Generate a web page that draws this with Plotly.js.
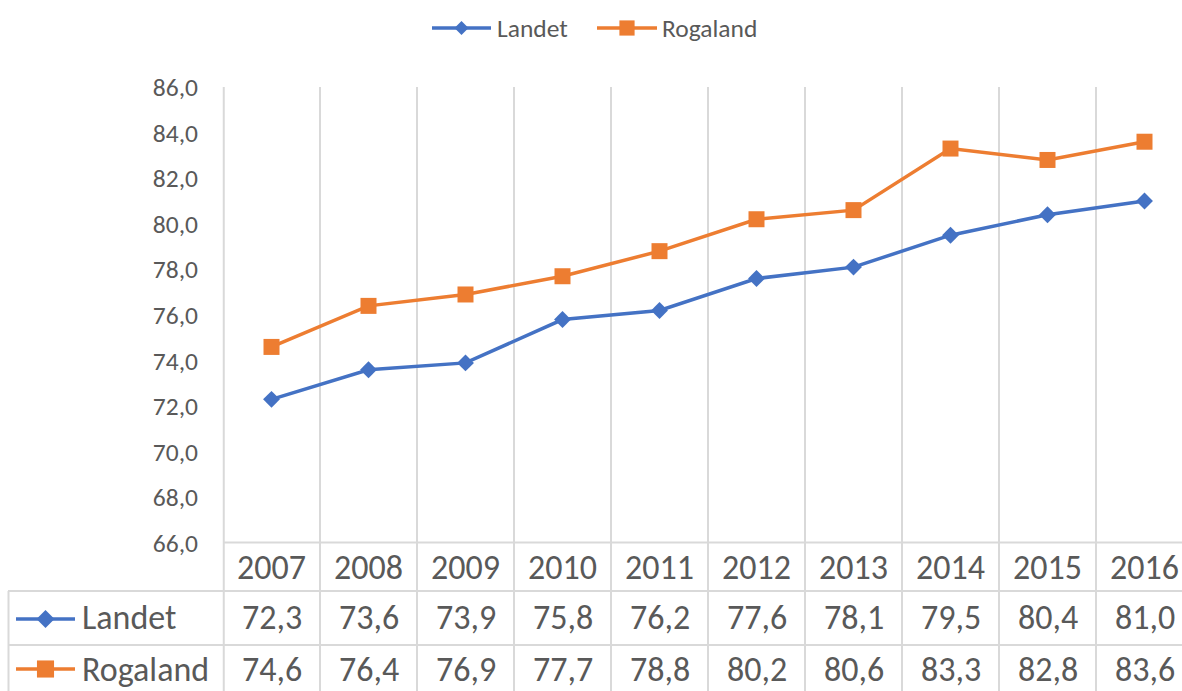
<!DOCTYPE html>
<html>
<head>
<meta charset="utf-8">
<script src="https://cdn.plot.ly/plotly-3.0.1.min.js"></script>
<style>html,body{margin:0;padding:0;background:#fff;}#chart{width:1182px;height:691px;}</style>
</head>
<body>
<div id="chart"></div>
<script>
// ---- data ----
const years = ["2007","2008","2009","2010","2011","2012","2013","2014","2015","2016"];
const seriesNames = ["Landet", "Rogaland"];
const landet = [72.3, 73.6, 73.9, 75.8, 76.2, 77.6, 78.1, 79.5, 80.4, 81.0];
const rogaland = [74.6, 76.4, 76.9, 77.7, 78.8, 80.2, 80.6, 83.3, 82.8, 83.6];
const yTicks = [66, 68, 70, 72, 74, 76, 78, 80, 82, 84, 86];

// ---- styling / layout constants ----
const W = 1182, H = 691;
const L = 223, T = 87, B = 543;           // plot area edges in px
const PW = W - L, PH = B - T;
const colors = ["#4472C4", "#ED7D31"];
const txt = "#595959", grid = "#D9D9D9";
const FONT = "Carlito, Lato, 'Open Sans', sans-serif";
const px = v => (v - L) / PW;             // pixel x -> paper x
const py = v => (B - v) / PH;             // pixel y -> paper y
const fmt = v => v.toFixed(1).replace(".", ",");

const traces = [landet, rogaland].map((vals, k) => ({
  type: "scatter", mode: "lines+markers", name: seriesNames[k],
  x: years, y: vals, cliponaxis: false, showlegend: false,
  line: {color: colors[k], width: 3.5},
  marker: {color: colors[k], symbol: k === 0 ? "diamond" : "square", size: k === 0 ? 13 : 16}
}));

const shapes = [];
const annotations = [];
// vertical lines: plot gridlines continuing through table
shapes.push({type: "line", xref: "paper", yref: "paper", x0: 0.0008, x1: 0.0008, y0: 1, y1: py(H), line: {color: grid, width: 2}, layer: "below"});
for (let i = 1; i < years.length; i++) {
  shapes.push({type: "line", xref: "x", yref: "paper", x0: i - 0.5, x1: i - 0.5, y0: 1, y1: py(H), line: {color: grid, width: 2}, layer: "below"});
}
// horizontal table lines
shapes.push({type: "line", xref: "paper", yref: "paper", x0: 0, x1: 1, y0: py(542.5), y1: py(542.5), line: {color: grid, width: 2}, layer: "below"});
[591, 645].forEach(yy => shapes.push({type: "line", xref: "paper", yref: "paper", x0: px(8), x1: 1, y0: py(yy), y1: py(yy), line: {color: grid, width: 2}, layer: "below"}));
shapes.push({type: "line", xref: "paper", yref: "paper", x0: px(8.5), x1: px(8.5), y0: py(591), y1: py(H), line: {color: grid, width: 2}, layer: "below"});

function legendSymbol(k, x0, x1, yc, half) {
  shapes.push({type: "line", xref: "paper", yref: "paper", x0: px(x0), x1: px(x1), y0: py(yc), y1: py(yc), line: {color: colors[k], width: 3.5}});
  const cx = (x0 + x1) / 2;
  let path;
  if (k === 0) {
    path = `M${px(cx - half)},${py(yc)} L${px(cx)},${py(yc - half)} L${px(cx + half)},${py(yc)} L${px(cx)},${py(yc + half)} Z`;
  } else {
    const h = half * 0.95;
    path = `M${px(cx - h)},${py(yc - h)} L${px(cx + h)},${py(yc - h)} L${px(cx + h)},${py(yc + h)} L${px(cx - h)},${py(yc + h)} Z`;
  }
  shapes.push({type: "path", xref: "paper", yref: "paper", path: path, fillcolor: colors[k], line: {color: colors[k], width: 0}});
}

// top legend
legendSymbol(0, 432, 491, 28, 7);
annotations.push({xref: "paper", yref: "paper", x: px(495), y: py(28), xanchor: "left", yanchor: "middle", showarrow: false, text: seriesNames[0], font: {family: FONT, size: 25.5, color: txt}});
legendSymbol(1, 597, 657, 28, 8);
annotations.push({xref: "paper", yref: "paper", x: px(660), y: py(28), xanchor: "left", yanchor: "middle", showarrow: false, text: seriesNames[1], font: {family: FONT, size: 25.5, color: txt}});

// table rows
const rowY = [617, 669];
[landet, rogaland].forEach((vals, k) => {
  legendSymbol(k, 16, 75, rowY[k] + (k === 0 ? 2 : 0), 9);
  annotations.push({xref: "paper", yref: "paper", x: px(80), y: py(rowY[k]), xanchor: "left", yanchor: "middle", showarrow: false, text: seriesNames[k], font: {family: FONT, size: 34, color: txt}});
  vals.forEach((v, i) => annotations.push({xref: "x", yref: "paper", x: i, y: py(rowY[k]), xanchor: "center", yanchor: "middle", showarrow: false, text: fmt(v), font: {family: FONT, size: 34, color: txt}}));
});

const layout = {
  width: W, height: H,
  margin: {l: L, r: 0, t: T, b: H - B, pad: 0},
  paper_bgcolor: "#fff", plot_bgcolor: "#fff",
  separators: ", ",
  showlegend: false,
  font: {family: FONT, color: txt},
  xaxis: {
    type: "category", range: [-0.5, -0.5 + PW / 97], showgrid: false, zeroline: false, showline: false,
    ticks: "", tickfont: {family: FONT, size: 34, color: txt}, ticklabelstandoff: 1, fixedrange: true
  },
  yaxis: {
    range: [66, 86], tickvals: yTicks, ticktext: yTicks.map(fmt), showgrid: false, zeroline: false, showline: false,
    ticks: "", tickfont: {family: FONT, size: 25.5, color: txt}, ticklabelstandoff: 24, fixedrange: true
  },
  shapes: shapes,
  annotations: annotations
};

Plotly.newPlot("chart", traces, layout, {displayModeBar: false, staticPlot: true});
</script>
</body>
</html>
